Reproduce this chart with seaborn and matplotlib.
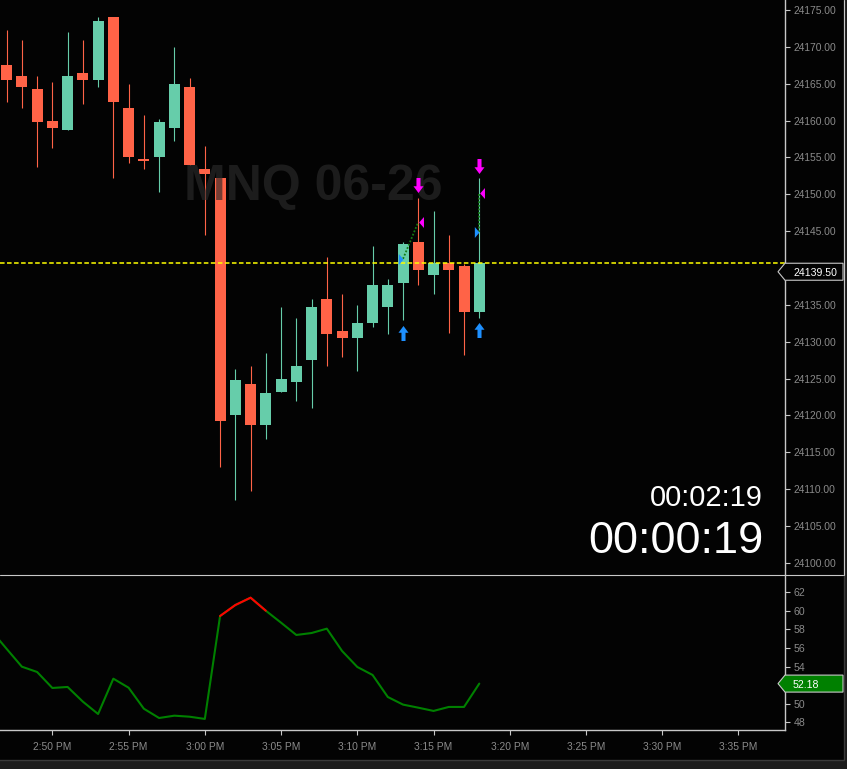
import numpy as np
import pandas as pd
import matplotlib
matplotlib.use("Agg")
import matplotlib.pyplot as plt
import matplotlib.dates as mdates
from matplotlib.patches import Polygon, Rectangle
from matplotlib.lines import Line2D
from matplotlib.transforms import IdentityTransform
import seaborn as sns

sns.set_style("dark")
plt.rcParams["font.family"] = ["Liberation Sans", "DejaVu Sans"]

# --------------------------------------------------------------------------
# data (1-minute bars, MNQ 06-26)
# --------------------------------------------------------------------------
bar_times = ["14:47", "14:48", "14:49", "14:50", "14:51", "14:52", "14:53", "14:54",
             "14:55", "14:56", "14:57", "14:58", "14:59", "15:00", "15:01", "15:02",
             "15:03", "15:04", "15:05", "15:06", "15:07", "15:08", "15:09", "15:10",
             "15:11", "15:12", "15:13", "15:14", "15:15", "15:16", "15:17", "15:18"]
opens = [24167.50, 24166.00, 24164.25, 24160.00, 24158.75, 24166.50, 24165.50, 24174.00,
         24161.75, 24154.75, 24155.00, 24159.00, 24164.50, 24153.50, 24152.25, 24120.00,
         24124.25, 24118.75, 24123.25, 24124.50, 24127.50, 24135.75, 24131.50, 24130.50,
         24132.50, 24134.75, 24138.00, 24143.50, 24139.00, 24140.75, 24140.25, 24134.00]
highs = [24172.25, 24171.00, 24166.00, 24165.25, 24172.00, 24171.00, 24174.00, 24174.00,
         24165.00, 24160.75, 24160.25, 24170.00, 24165.75, 24156.50, 24152.25, 24126.25,
         24126.75, 24128.50, 24134.75, 24133.25, 24135.75, 24141.50, 24136.50, 24135.00,
         24143.00, 24138.50, 24143.50, 24149.50, 24147.75, 24144.50, 24140.50, 24152.25]
lows = [24162.50, 24161.75, 24153.75, 24156.25, 24158.75, 24162.25, 24164.50, 24152.25,
        24154.25, 24153.50, 24150.25, 24157.25, 24154.00, 24144.50, 24113.00, 24108.50,
        24109.75, 24116.75, 24123.25, 24122.00, 24121.00, 24126.75, 24128.00, 24126.00,
        24132.00, 24131.00, 24133.00, 24137.75, 24136.50, 24131.25, 24128.25, 24133.25]
closes = [24165.50, 24164.50, 24159.75, 24159.00, 24166.00, 24165.50, 24173.50, 24162.50,
          24155.00, 24154.50, 24159.75, 24165.00, 24154.00, 24152.75, 24119.25, 24124.75,
          24118.75, 24123.00, 24125.00, 24126.75, 24134.75, 24131.00, 24130.50, 24132.50,
          24137.75, 24137.75, 24143.25, 24139.75, 24140.75, 24139.75, 24134.00, 24140.75]

osc_times = ["14:46"] + bar_times
osc_values = [57.87, 55.92, 54.00, 53.43, 51.71, 51.82, 50.24, 48.91, 52.71, 51.74, 49.48,
              48.48, 48.73, 48.62, 48.38, 59.45, 60.63, 61.42, 60.02, 58.73, 57.41, 57.62,
              58.09, 55.69, 53.97, 53.11, 50.74, 49.92, 49.59, 49.24, 49.67, 49.67, 52.18]
osc_hot = 59

last_price = 24140.75
price_tag_value = 24139.50
osc_tag_value = 52.18

# trade signals
entry_times = ["15:13", "15:18"]
entry_prices = [24141.25, 24144.90]
entry_arrow_prices = [24131.25, 24131.65]
exit_times = ["15:14", "15:18"]
exit_prices = [24146.25, 24150.20]
exit_arrow_prices = [24151.20, 24153.90]

# axis ticks (the levels hidden under the price tags are left out)
price_ticks = [24100, 24105, 24110, 24115, 24120, 24125, 24130, 24135,
               24145, 24150, 24155, 24160, 24165, 24170, 24175]
osc_ticks = [48, 50, 54, 56, 58, 60, 62]
tick_times = ["14:50", "14:55", "15:00", "15:05", "15:10", "15:15", "15:20", "15:25", "15:30", "15:35"]
tick_labels = ["2:50 PM", "2:55 PM", "3:00 PM", "3:05 PM", "3:10 PM", "3:15 PM",
               "3:20 PM", "3:25 PM", "3:30 PM", "3:35 PM"]

watermark = "MNQ 06-26"
timer_bar = "00:02:19"
timer_session = "00:00:19"

GREEN = "#66cdaa"
RED = "#ff6347"
TXT = "#8a8a8a"
LINE = "#c8c8c8"


def to_num(times):
    return mdates.date2num(pd.to_datetime(["2026-05-01 " + t for t in times]))


W, H = 847, 769
fig = plt.figure(figsize=(W / 100, H / 100), dpi=100, facecolor="#1c1c1c")


def frac(x0, y0, x1, y1):
    return [x0 / W, 1 - y1 / H, (x1 - x0) / W, (y1 - y0) / H]


fig.add_artist(Rectangle((-2, H - 759.5), 845.5, 762, transform=IdentityTransform(),
                         facecolor="#030303", edgecolor="#3a3a3a", lw=1, zorder=-2))

ax = fig.add_axes(frac(0, 0, 785, 574))
ax2 = fig.add_axes(frac(0, 575, 785, 730), sharex=ax)
for a in (ax, ax2):
    a.set_facecolor("#030303")
    a.grid(False)
    for s in a.spines.values():
        s.set_visible(False)
    a.spines["right"].set_visible(True)
    a.spines["right"].set_color(LINE)
    a.spines["right"].set_linewidth(1)
ax2.spines["bottom"].set_visible(True)
ax2.spines["bottom"].set_color(LINE)
ax2.spines["bottom"].set_linewidth(1)

# --------------------------------------------------------------------------
# candles
# --------------------------------------------------------------------------
t = to_num(bar_times)
o, h, l, c = map(np.array, (opens, highs, lows, closes))
colors = np.where(c >= o, GREEN, RED)
width = 0.7215 / 1440
ax.vlines(t, l, h, colors=colors, lw=0.8, zorder=2)
ax.bar(t, np.abs(c - o), bottom=np.minimum(o, c), width=width, color=colors, lw=0, zorder=3)

# instrument watermark sits over the candles but under the signals
ax.text(313.5 / W, (H - 200) / H, watermark, transform=fig.transFigure, family="Liberation Sans",
        weight="bold", fontsize=36, color="#2a2a2a", alpha=0.65, ha="center", va="baseline",
        zorder=4, clip_on=False)

ax.axhline(last_price, color="#ffff00", lw=1.1, ls=(0, (3, 1.6)), zorder=4.5)

# signals
up_arrow = [(-0.27, -1), (0.27, -1), (0.27, 0.1), (0.67, 0.1), (0, 1), (-0.67, 0.1), (-0.27, 0.1)]
down_arrow = [(x, -y) for x, y in up_arrow]
tri_right = [(-0.85, -1), (0, 0), (-0.85, 1)]
tri_left = [(1, -1), (0.12, 0), (1, 1)]

te, tx = to_num(entry_times), to_num(exit_times)
for i in range(len(te)):
    ax.plot([te[i], tx[i]], [entry_prices[i], exit_prices[i]], color="#137a13",
            lw=1.3, ls=(0, (1, 1)), zorder=5)
ax.plot(te, entry_arrow_prices, marker=up_arrow, ls="none", ms=10.8, color="#1e90ff", mec="none", zorder=6)
ax.plot(tx, exit_arrow_prices, marker=down_arrow, ls="none", ms=10.8, color="#ff00ff", mec="none", zorder=6)
ax.plot(te, entry_prices, marker=tri_right, ls="none", ms=7.9, color="#1e90ff", mec="none", zorder=6)
ax.plot(tx, exit_prices, marker=tri_left, ls="none", ms=7.9, color="#ff00ff", mec="none", zorder=6)

ax.set_xlim(pd.Timestamp("2026-05-01 14:46:34"), pd.Timestamp("2026-05-01 15:38:03"))
ax.set_ylim(24098.50, 24176.36)
ax.yaxis.tick_right()
ax.set_yticks(price_ticks)
ax.set_yticklabels([f"{v:.2f}" for v in price_ticks])
ax.tick_params(axis="y", direction="out", length=3.6, width=0.8, color=LINE,
               labelcolor=TXT, labelsize=7.4, pad=2.6, left=False, right=True)
ax.tick_params(axis="x", bottom=False, labelbottom=False)
ax.set_xlabel("")
ax.set_ylabel("")

# --------------------------------------------------------------------------
# oscillator
# --------------------------------------------------------------------------
osc = pd.DataFrame({"time": to_num(osc_times), "value": osc_values})
sns.lineplot(data=osc, x="time", y="value", ax=ax2, color="#008000", lw=1.5)
sns.lineplot(data=osc[osc["value"] > osc_hot], x="time", y="value", ax=ax2, color="#ff0000", lw=1.5)
ax2.set_ylim(47.19, 63.86)
ax2.yaxis.tick_right()
ax2.set_yticks(osc_ticks)
ax2.set_xticks(to_num(tick_times))
ax2.set_xticklabels(tick_labels)
ax2.tick_params(axis="y", direction="out", length=3.6, width=0.8, color=LINE,
                labelcolor=TXT, labelsize=7.6, pad=2.6, left=False, right=True)
ax2.tick_params(axis="x", direction="out", length=3.6, width=0.8, color=LINE,
                labelcolor=TXT, labelsize=7.4, pad=5.0, bottom=True)
ax2.set_xlabel("")
ax2.set_ylabel("")
ax2.set_xlim(pd.Timestamp("2026-05-01 14:46:34"), pd.Timestamp("2026-05-01 15:38:03"))

# panel separators
fig.add_artist(Line2D([0, 843], [H - 574.5, H - 574.5], transform=IdentityTransform(), color=LINE, lw=0.8))
fig.add_artist(Line2D([843.5, 843.5], [H - 574.5, H], transform=IdentityTransform(), color=LINE, lw=0.8))


def price_tag(axis, value, text, face):
    y = axis.transData.transform((axis.get_xlim()[0], value))[1]
    hh = 8.5
    poly = Polygon([(778, y), (785, y + hh), (843, y + hh), (843, y - hh), (785, y - hh)],
                   closed=True, transform=IdentityTransform(), facecolor=face,
                   edgecolor=LINE, lw=0.8, zorder=5)
    fig.add_artist(poly)
    fig.text(793 / W, (y - 4) / H, text, color="white", fontsize=7.6, ha="left",
             va="baseline", zorder=6)


price_tag(ax, price_tag_value, f"{price_tag_value:.2f}", "#030303")
price_tag(ax2, osc_tag_value, f"{osc_tag_value:.2f}", "#008000")

# countdown timers
fig.text(763 / W, (H - 506) / H, timer_bar, color="white", fontsize=21, ha="right", va="baseline")
fig.text(763 / W, (H - 553) / H, timer_session, color="white", fontsize=32.5, ha="right", va="baseline")

fig.savefig("out.png", dpi=100, facecolor=fig.get_facecolor())
